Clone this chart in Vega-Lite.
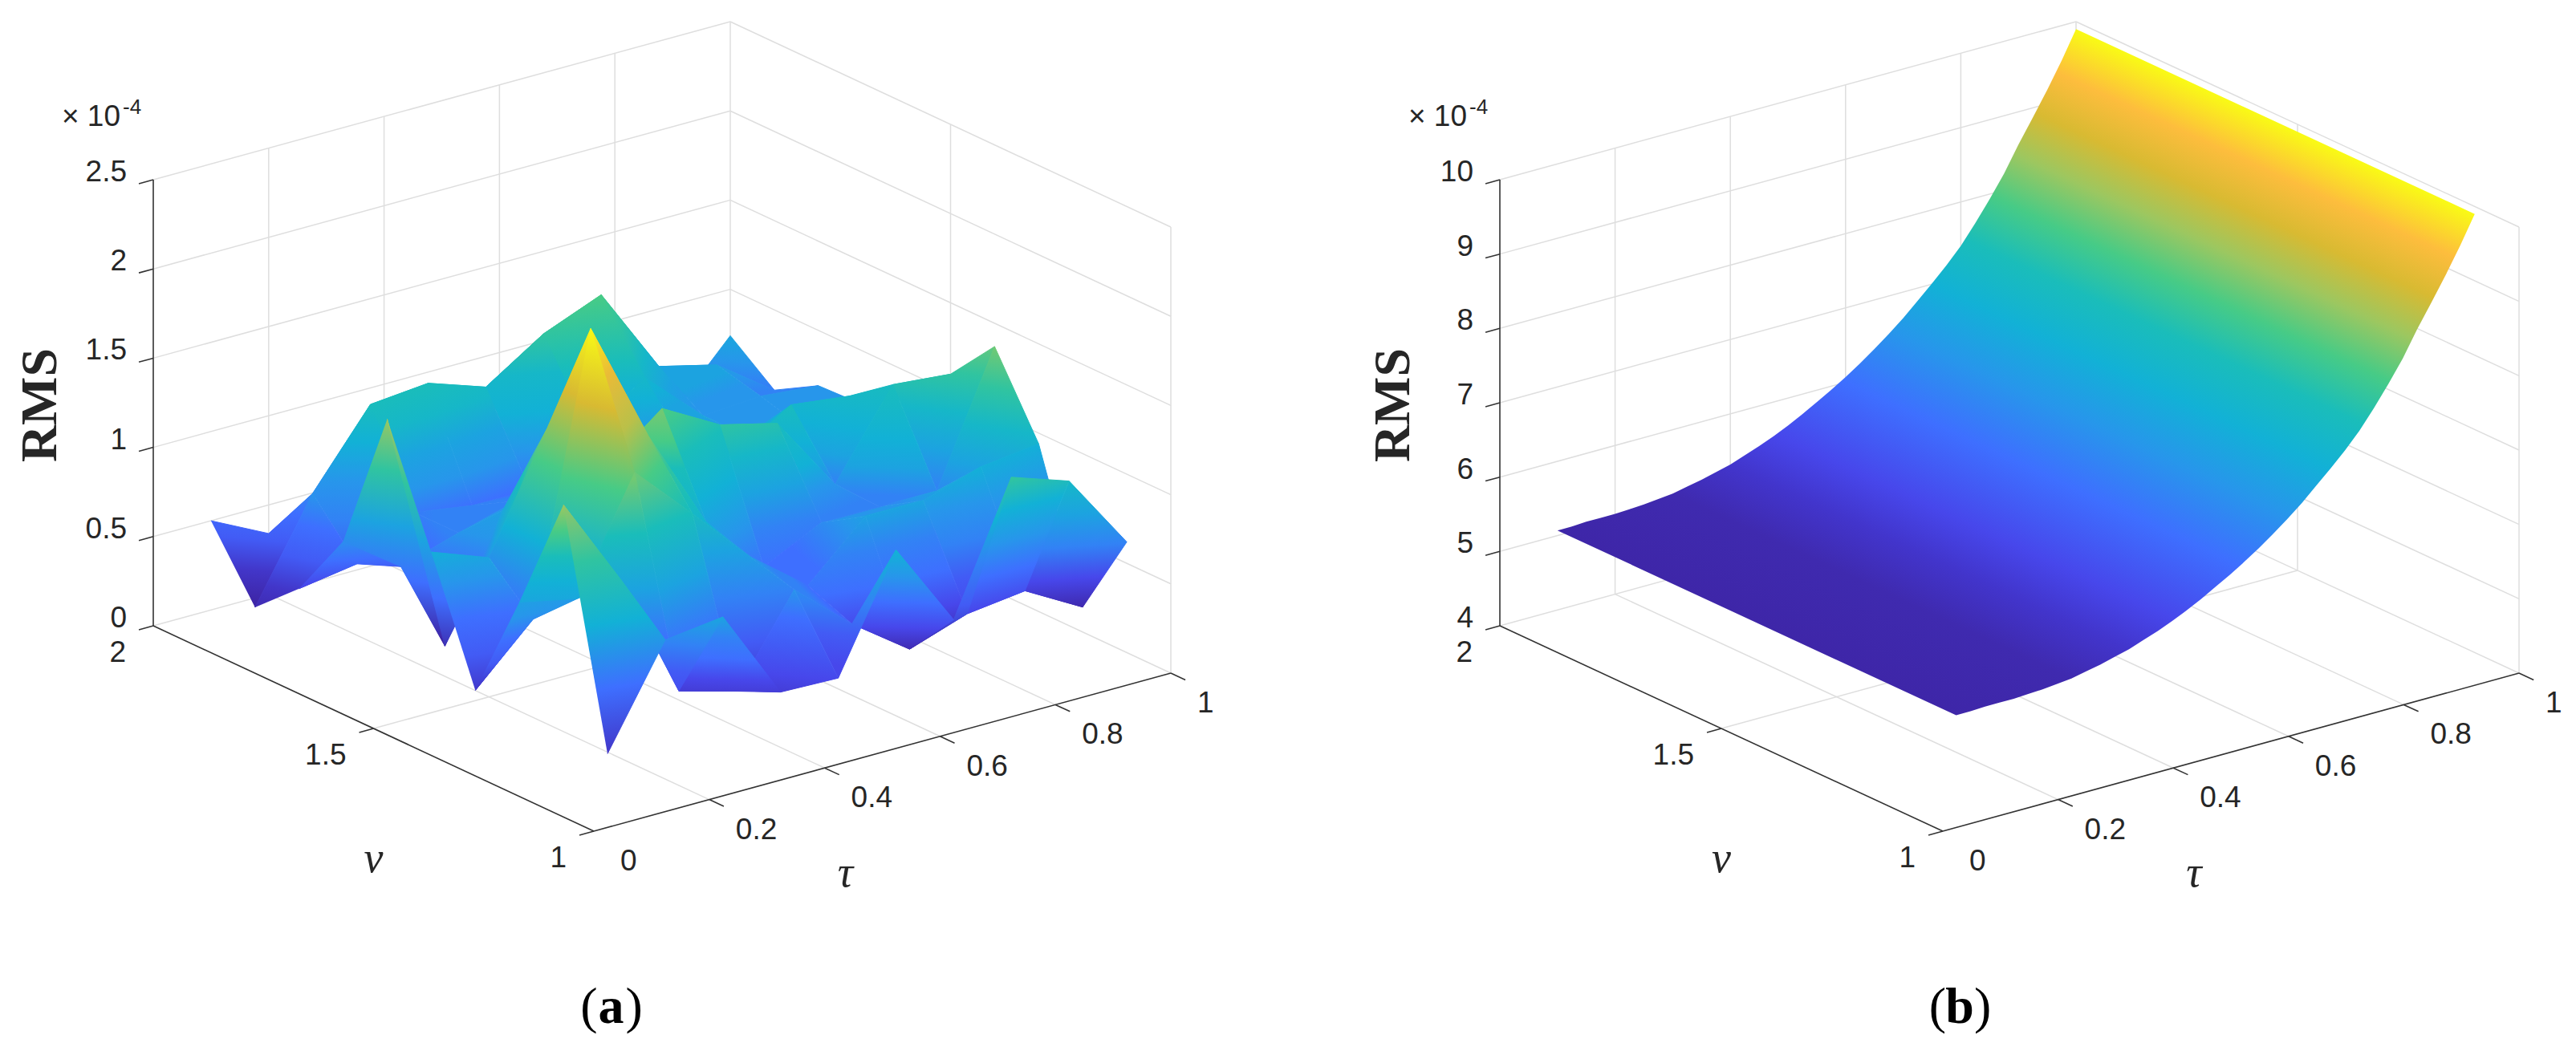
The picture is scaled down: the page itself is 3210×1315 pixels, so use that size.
{"$schema":"https://vega.github.io/schema/vega-lite/v6.json","width":3210,"height":1315,"padding":0,"background":"white","autosize":{"type":"fit","contains":"padding"},"config":{"view":{"stroke":null}},
"params":[{"name":"P","value":["#3E26A8","#4236C9","#4747EB","#425BF5","#3E6FFF","#3282F5","#2796EB","#1CA3E0","#12B1D6","#16B7C8","#1ABDBA","#30C4A0","#47CB86","#71C973","#9CC760","#BAC049","#D8BA32","#EABB37","#FDBD3D","#FBDC29","#F9FB15"]}],
"datasets":{"A":[
{"k":1020,"tau":1,"nu":2,"rms":0.74},{"k":1019,"tau":1,"nu":1.9,"rms":0.55},{"k":1018,"tau":1,"nu":1.8,"rms":0.69},{"k":1017,"tau":1,"nu":1.7,"rms":0.70},{"k":1016,"tau":1,"nu":1.6,"rms":0.85},{"k":1015,"tau":1,"nu":1.5,"rms":1.10},{"k":1014,"tau":1,"nu":1.4,"rms":1.37},{"k":1013,"tau":1,"nu":1.3,"rms":0.94},{"k":1012,"tau":1,"nu":1.2,"rms":0.14},{"k":1011,"tau":1,"nu":1.1,"rms":0.62},
{"k":920,"tau":0.9,"nu":2,"rms":0.40},{"k":919,"tau":0.9,"nu":1.9,"rms":0.78},{"k":918,"tau":0.9,"nu":1.8,"rms":0.72},{"k":917,"tau":0.9,"nu":1.7,"rms":0.65},{"k":916,"tau":0.9,"nu":1.6,"rms":0.95},{"k":915,"tau":0.9,"nu":1.5,"rms":1.13},{"k":914,"tau":0.9,"nu":1.4,"rms":0.65},{"k":913,"tau":0.9,"nu":1.3,"rms":0.90},{"k":912,"tau":0.9,"nu":1.2,"rms":0.32},{"k":911,"tau":0.9,"nu":1.1,"rms":1.05},
{"k":820,"tau":0.8,"nu":2,"rms":0.70},{"k":819,"tau":0.8,"nu":1.9,"rms":0.86},{"k":818,"tau":0.8,"nu":1.8,"rms":0.70},{"k":817,"tau":0.8,"nu":1.7,"rms":0.70},{"k":816,"tau":0.8,"nu":1.6,"rms":0.99},{"k":815,"tau":0.8,"nu":1.5,"rms":0.66},{"k":814,"tau":0.8,"nu":1.4,"rms":0.65},{"k":813,"tau":0.8,"nu":1.3,"rms":0.80},{"k":812,"tau":0.8,"nu":1.2,"rms":0.28},{"k":811,"tau":0.8,"nu":1.1,"rms":1.16},
{"k":720,"tau":0.7,"nu":2,"rms":0.60},{"k":719,"tau":0.7,"nu":1.9,"rms":1.35},{"k":718,"tau":0.7,"nu":1.8,"rms":1.00},{"k":717,"tau":0.7,"nu":1.7,"rms":0.70},{"k":716,"tau":0.7,"nu":1.6,"rms":0.80},{"k":715,"tau":0.7,"nu":1.5,"rms":1.09},{"k":714,"tau":0.7,"nu":1.4,"rms":0.65},{"k":713,"tau":0.7,"nu":1.3,"rms":0.80},{"k":712,"tau":0.7,"nu":1.2,"rms":0.17},{"k":711,"tau":0.7,"nu":1.1,"rms":0.45},
{"k":620,"tau":0.6,"nu":2,"rms":0.70},{"k":619,"tau":0.6,"nu":1.9,"rms":1.22},{"k":618,"tau":0.6,"nu":1.8,"rms":0.80},{"k":617,"tau":0.6,"nu":1.7,"rms":0.85},{"k":616,"tau":0.6,"nu":1.6,"rms":0.80},{"k":615,"tau":0.6,"nu":1.5,"rms":1.17},{"k":614,"tau":0.6,"nu":1.4,"rms":0.49},{"k":613,"tau":0.6,"nu":1.3,"rms":0.50},{"k":612,"tau":0.6,"nu":1.2,"rms":0.40},{"k":611,"tau":0.6,"nu":1.1,"rms":0.93},
{"k":520,"tau":0.5,"nu":2,"rms":0.60},{"k":519,"tau":0.5,"nu":1.9,"rms":1.01},{"k":518,"tau":0.5,"nu":1.8,"rms":0.55},{"k":517,"tau":0.5,"nu":1.7,"rms":0.65},{"k":516,"tau":0.5,"nu":1.6,"rms":0.70},{"k":515,"tau":0.5,"nu":1.5,"rms":1.35},{"k":514,"tau":0.5,"nu":1.4,"rms":0.83},{"k":513,"tau":0.5,"nu":1.3,"rms":0.75},{"k":512,"tau":0.5,"nu":1.2,"rms":0.68},{"k":511,"tau":0.5,"nu":1.1,"rms":0.30},
{"k":420,"tau":0.4,"nu":2,"rms":0.50},{"k":419,"tau":0.4,"nu":1.9,"rms":1.12},{"k":418,"tau":0.4,"nu":1.8,"rms":0.55},{"k":417,"tau":0.4,"nu":1.7,"rms":0.69},{"k":416,"tau":0.4,"nu":1.6,"rms":0.90},{"k":415,"tau":0.4,"nu":1.5,"rms":1.10},{"k":414,"tau":0.4,"nu":1.4,"rms":1.40},{"k":413,"tau":0.4,"nu":1.3,"rms":1.08},{"k":412,"tau":0.4,"nu":1.2,"rms":0.20},{"k":411,"tau":0.4,"nu":1.1,"rms":0.31},
{"k":320,"tau":0.3,"nu":2,"rms":0.50},{"k":319,"tau":0.3,"nu":1.9,"rms":1.09},{"k":318,"tau":0.3,"nu":1.8,"rms":0.60},{"k":317,"tau":0.3,"nu":1.7,"rms":0.60},{"k":316,"tau":0.3,"nu":1.6,"rms":0.84},{"k":315,"tau":0.3,"nu":1.5,"rms":1.41},{"k":314,"tau":0.3,"nu":1.4,"rms":2.09},{"k":313,"tau":0.3,"nu":1.3,"rms":1.40},{"k":312,"tau":0.3,"nu":1.2,"rms":0.29},{"k":311,"tau":0.3,"nu":1.1,"rms":0.82},
{"k":220,"tau":0.2,"nu":2,"rms":0.34},{"k":219,"tau":0.2,"nu":1.9,"rms":0.68},{"k":218,"tau":0.2,"nu":1.8,"rms":0.40},{"k":217,"tau":0.2,"nu":1.7,"rms":0.50},{"k":216,"tau":0.2,"nu":1.6,"rms":0.17},{"k":215,"tau":0.2,"nu":1.5,"rms":0.78},{"k":214,"tau":0.2,"nu":1.4,"rms":0.55},{"k":213,"tau":0.2,"nu":1.3,"rms":0.78},{"k":212,"tau":0.2,"nu":1.2,"rms":1.00},{"k":211,"tau":0.2,"nu":1.1,"rms":0.78},
{"k":120,"tau":0.1,"nu":2,"rms":0.50},{"k":119,"tau":0.1,"nu":1.9,"rms":0.13},{"k":118,"tau":0.1,"nu":1.8,"rms":0.35},{"k":117,"tau":0.1,"nu":1.7,"rms":0.73},{"k":116,"tau":0.1,"nu":1.6,"rms":1.53},{"k":115,"tau":0.1,"nu":1.5,"rms":0.90},{"k":114,"tau":0.1,"nu":1.4,"rms":0.24},{"k":113,"tau":0.1,"nu":1.3,"rms":0.85},{"k":112,"tau":0.1,"nu":1.2,"rms":1.51},{"k":111,"tau":0.1,"nu":1.1,"rms":0.23}
],
"B":[{"tau":1,"rms":9.9},{"tau":0.975,"rms":9.53},{"tau":0.95,"rms":9.19},{"tau":0.925,"rms":8.87},{"tau":0.9,"rms":8.56},{"tau":0.875,"rms":8.22},{"tau":0.85,"rms":7.93},{"tau":0.825,"rms":7.66},{"tau":0.8,"rms":7.41},{"tau":0.775,"rms":7.2},{"tau":0.75,"rms":7.01},{"tau":0.725,"rms":6.83},{"tau":0.7,"rms":6.65},{"tau":0.675,"rms":6.49},{"tau":0.65,"rms":6.34},{"tau":0.625,"rms":6.2},{"tau":0.6,"rms":6.07},{"tau":0.575,"rms":5.95},{"tau":0.55,"rms":5.84},{"tau":0.525,"rms":5.73},{"tau":0.5,"rms":5.63},{"tau":0.475,"rms":5.54},{"tau":0.45,"rms":5.46},{"tau":0.425,"rms":5.39},{"tau":0.4,"rms":5.32},{"tau":0.375,"rms":5.27},{"tau":0.35,"rms":5.22},{"tau":0.325,"rms":5.18},{"tau":0.3,"rms":5.14},{"tau":0.275,"rms":5.12},{"tau":0.25,"rms":5.1},{"tau":0.225,"rms":5.09},{"tau":0.2,"rms":5.08},{"tau":0.175,"rms":5.08},{"tau":0.15,"rms":5.08},{"tau":0.125,"rms":5.07},{"tau":0.1,"rms":5.07}]},
"data":{"values":[
{"c":"g","p":"a","tau":[0.2,0.2],"nu":[1,2],"z":[0,0]},{"c":"g","p":"a","tau":[0.4,0.4],"nu":[1,2],"z":[0,0]},{"c":"g","p":"a","tau":[0.6,0.6],"nu":[1,2],"z":[0,0]},{"c":"g","p":"a","tau":[0.8,0.8],"nu":[1,2],"z":[0,0]},{"c":"g","p":"a","tau":[1,1],"nu":[1,2],"z":[0,0]},
{"c":"g","p":"a","tau":[0,1],"nu":[1.5,1.5],"z":[0,0]},{"c":"g","p":"a","tau":[0,1],"nu":[2,2],"z":[0,0]},
{"c":"g","p":"a","tau":[0.2,0.2],"nu":[2,2],"z":[0,2.5]},{"c":"g","p":"a","tau":[0.4,0.4],"nu":[2,2],"z":[0,2.5]},{"c":"g","p":"a","tau":[0.6,0.6],"nu":[2,2],"z":[0,2.5]},{"c":"g","p":"a","tau":[0.8,0.8],"nu":[2,2],"z":[0,2.5]},{"c":"g","p":"a","tau":[1,1],"nu":[2,2],"z":[0,2.5]},
{"c":"g","p":"a","tau":[1,1],"nu":[1,1],"z":[0,2.5]},{"c":"g","p":"a","tau":[1,1],"nu":[1.5,1.5],"z":[0,2.5]},
{"c":"g","p":"a","tau":[0,1],"nu":[2,2],"z":[0.5,0.5]},{"c":"g","p":"a","tau":[0,1],"nu":[2,2],"z":[1,1]},{"c":"g","p":"a","tau":[0,1],"nu":[2,2],"z":[1.5,1.5]},{"c":"g","p":"a","tau":[0,1],"nu":[2,2],"z":[2,2]},{"c":"g","p":"a","tau":[0,1],"nu":[2,2],"z":[2.5,2.5]},
{"c":"g","p":"a","tau":[1,1],"nu":[2,1],"z":[0.5,0.5]},{"c":"g","p":"a","tau":[1,1],"nu":[2,1],"z":[1,1]},{"c":"g","p":"a","tau":[1,1],"nu":[2,1],"z":[1.5,1.5]},{"c":"g","p":"a","tau":[1,1],"nu":[2,1],"z":[2,2]},{"c":"g","p":"a","tau":[1,1],"nu":[2,1],"z":[2.5,2.5]},
{"c":"g","p":"b","tau":[0.2,0.2],"nu":[1,2],"z":[4,4]},{"c":"g","p":"b","tau":[0.4,0.4],"nu":[1,2],"z":[4,4]},{"c":"g","p":"b","tau":[0.6,0.6],"nu":[1,2],"z":[4,4]},{"c":"g","p":"b","tau":[0.8,0.8],"nu":[1,2],"z":[4,4]},{"c":"g","p":"b","tau":[1,1],"nu":[1,2],"z":[4,4]},
{"c":"g","p":"b","tau":[0,1],"nu":[1.5,1.5],"z":[4,4]},{"c":"g","p":"b","tau":[0,1],"nu":[2,2],"z":[4,4]},
{"c":"g","p":"b","tau":[0.2,0.2],"nu":[2,2],"z":[4,10]},{"c":"g","p":"b","tau":[0.4,0.4],"nu":[2,2],"z":[4,10]},{"c":"g","p":"b","tau":[0.6,0.6],"nu":[2,2],"z":[4,10]},{"c":"g","p":"b","tau":[0.8,0.8],"nu":[2,2],"z":[4,10]},{"c":"g","p":"b","tau":[1,1],"nu":[2,2],"z":[4,10]},
{"c":"g","p":"b","tau":[1,1],"nu":[1,1],"z":[4,10]},{"c":"g","p":"b","tau":[1,1],"nu":[1.5,1.5],"z":[4,10]},
{"c":"g","p":"b","tau":[0,1],"nu":[2,2],"z":[5,5]},{"c":"g","p":"b","tau":[0,1],"nu":[2,2],"z":[6,6]},{"c":"g","p":"b","tau":[0,1],"nu":[2,2],"z":[7,7]},{"c":"g","p":"b","tau":[0,1],"nu":[2,2],"z":[8,8]},{"c":"g","p":"b","tau":[0,1],"nu":[2,2],"z":[9,9]},{"c":"g","p":"b","tau":[0,1],"nu":[2,2],"z":[10,10]},
{"c":"g","p":"b","tau":[1,1],"nu":[2,1],"z":[5,5]},{"c":"g","p":"b","tau":[1,1],"nu":[2,1],"z":[6,6]},{"c":"g","p":"b","tau":[1,1],"nu":[2,1],"z":[7,7]},{"c":"g","p":"b","tau":[1,1],"nu":[2,1],"z":[8,8]},{"c":"g","p":"b","tau":[1,1],"nu":[2,1],"z":[9,9]},{"c":"g","p":"b","tau":[1,1],"nu":[2,1],"z":[10,10]},
{"c":"x","p":"a","tau":[0,0],"nu":[2,2],"z":[0,2.5]},{"c":"x","p":"a","tau":[0,0],"nu":[1,2],"z":[0,0]},{"c":"x","p":"a","tau":[0,1],"nu":[1,1],"z":[0,0]},
{"c":"x","p":"b","tau":[0,0],"nu":[2,2],"z":[4,10]},{"c":"x","p":"b","tau":[0,0],"nu":[1,2],"z":[4,4]},{"c":"x","p":"b","tau":[0,1],"nu":[1,1],"z":[4,4]},
{"c":"x","p":"a","tau":[0,-0.025],"nu":[2,2],"z":[0.5,0.5]},{"c":"x","p":"a","tau":[0,-0.025],"nu":[2,2],"z":[1,1]},{"c":"x","p":"a","tau":[0,-0.025],"nu":[2,2],"z":[1.5,1.5]},{"c":"x","p":"a","tau":[0,-0.025],"nu":[2,2],"z":[2,2]},{"c":"x","p":"a","tau":[0,-0.025],"nu":[2,2],"z":[2.5,2.5]},{"c":"x","p":"a","tau":[0,-0.025],"nu":[2,2],"z":[0,0]},{"c":"x","p":"a","tau":[0,-0.025],"nu":[1.5,1.5],"z":[0,0]},{"c":"x","p":"a","tau":[0,-0.025],"nu":[1,1],"z":[0,0]},
{"c":"x","p":"a","tau":[0.2,0.2],"nu":[1,0.967],"z":[0,0]},{"c":"x","p":"a","tau":[0.4,0.4],"nu":[1,0.967],"z":[0,0]},{"c":"x","p":"a","tau":[0.6,0.6],"nu":[1,0.967],"z":[0,0]},{"c":"x","p":"a","tau":[0.8,0.8],"nu":[1,0.967],"z":[0,0]},{"c":"x","p":"a","tau":[1,1],"nu":[1,0.967],"z":[0,0]},
{"c":"x","p":"b","tau":[0,-0.025],"nu":[2,2],"z":[5,5]},{"c":"x","p":"b","tau":[0,-0.025],"nu":[2,2],"z":[6,6]},{"c":"x","p":"b","tau":[0,-0.025],"nu":[2,2],"z":[7,7]},{"c":"x","p":"b","tau":[0,-0.025],"nu":[2,2],"z":[8,8]},{"c":"x","p":"b","tau":[0,-0.025],"nu":[2,2],"z":[9,9]},{"c":"x","p":"b","tau":[0,-0.025],"nu":[2,2],"z":[10,10]},{"c":"x","p":"b","tau":[0,-0.025],"nu":[2,2],"z":[4,4]},{"c":"x","p":"b","tau":[0,-0.025],"nu":[1.5,1.5],"z":[4,4]},{"c":"x","p":"b","tau":[0,-0.025],"nu":[1,1],"z":[4,4]},
{"c":"x","p":"b","tau":[0.2,0.2],"nu":[1,0.967],"z":[4,4]},{"c":"x","p":"b","tau":[0.4,0.4],"nu":[1,0.967],"z":[4,4]},{"c":"x","p":"b","tau":[0.6,0.6],"nu":[1,0.967],"z":[4,4]},{"c":"x","p":"b","tau":[0.8,0.8],"nu":[1,0.967],"z":[4,4]},{"c":"x","p":"b","tau":[1,1],"nu":[1,0.967],"z":[4,4]},
{"c":"zl","p":"a","tau":[0],"nu":[2],"z":[0],"label":"0"},{"c":"zl","p":"a","tau":[0],"nu":[2],"z":[0.5],"label":"0.5"},{"c":"zl","p":"a","tau":[0],"nu":[2],"z":[1],"label":"1"},{"c":"zl","p":"a","tau":[0],"nu":[2],"z":[1.5],"label":"1.5"},{"c":"zl","p":"a","tau":[0],"nu":[2],"z":[2],"label":"2"},{"c":"zl","p":"a","tau":[0],"nu":[2],"z":[2.5],"label":"2.5"},
{"c":"zl","p":"b","tau":[0],"nu":[2],"z":[4],"label":"4"},{"c":"zl","p":"b","tau":[0],"nu":[2],"z":[5],"label":"5"},{"c":"zl","p":"b","tau":[0],"nu":[2],"z":[6],"label":"6"},{"c":"zl","p":"b","tau":[0],"nu":[2],"z":[7],"label":"7"},{"c":"zl","p":"b","tau":[0],"nu":[2],"z":[8],"label":"8"},{"c":"zl","p":"b","tau":[0],"nu":[2],"z":[9],"label":"9"},{"c":"zl","p":"b","tau":[0],"nu":[2],"z":[10],"label":"10"},
{"c":"nl","p":"a","tau":[0],"nu":[1],"z":[0],"label":"1"},{"c":"nl","p":"a","tau":[0],"nu":[1.5],"z":[0],"label":"1.5"},{"c":"nl","p":"a","tau":[0],"nu":[2],"z":[0],"label":"2"},
{"c":"nl","p":"b","tau":[0],"nu":[1],"z":[4],"label":"1"},{"c":"nl","p":"b","tau":[0],"nu":[1.5],"z":[4],"label":"1.5"},{"c":"nl","p":"b","tau":[0],"nu":[2],"z":[4],"label":"2"},
{"c":"tl","p":"a","tau":[0],"nu":[1],"z":[0],"label":"0"},{"c":"tl","p":"a","tau":[0.2],"nu":[1],"z":[0],"label":"0.2"},{"c":"tl","p":"a","tau":[0.4],"nu":[1],"z":[0],"label":"0.4"},{"c":"tl","p":"a","tau":[0.6],"nu":[1],"z":[0],"label":"0.6"},{"c":"tl","p":"a","tau":[0.8],"nu":[1],"z":[0],"label":"0.8"},{"c":"tl","p":"a","tau":[1],"nu":[1],"z":[0],"label":"1"},
{"c":"tl","p":"b","tau":[0],"nu":[1],"z":[4],"label":"0"},{"c":"tl","p":"b","tau":[0.2],"nu":[1],"z":[4],"label":"0.2"},{"c":"tl","p":"b","tau":[0.4],"nu":[1],"z":[4],"label":"0.4"},{"c":"tl","p":"b","tau":[0.6],"nu":[1],"z":[4],"label":"0.6"},{"c":"tl","p":"b","tau":[0.8],"nu":[1],"z":[4],"label":"0.8"},{"c":"tl","p":"b","tau":[1],"nu":[1],"z":[4],"label":"1"},
{"c":"ex","p":"a","tau":[0],"nu":[2],"z":[2.5],"label":"× 10"},{"c":"ex","p":"b","tau":[0],"nu":[2],"z":[10],"label":"× 10"},{"c":"es","p":"a","tau":[0],"nu":[2],"z":[2.5],"label":"-4"},{"c":"es","p":"b","tau":[0],"nu":[2],"z":[10],"label":"-4"},
{"c":"ra","p":"a","tau":[0],"nu":[2],"z":[1.25],"label":"RMS"},{"c":"rb","p":"b","tau":[0],"nu":[2],"z":[7],"label":"RMS"},
{"c":"nu","p":"a","tau":[0],"nu":[1.5],"z":[0],"label":"ν"},{"c":"nu","p":"b","tau":[0],"nu":[1.5],"z":[4],"label":"ν"},
{"c":"ta","p":"a","tau":[0.5],"nu":[1],"z":[0],"label":"τ"},{"c":"ta","p":"b","tau":[0.5],"nu":[1],"z":[4],"label":"τ"},
{"c":"sl","p":"a","tau":[0.5],"nu":[1],"z":[0],"label":"("},{"c":"sl","p":"b","tau":[0.5],"nu":[1],"z":[4],"label":"("},
{"c":"sr","p":"a","tau":[0.5],"nu":[1],"z":[0],"label":")"},{"c":"sr","p":"b","tau":[0.5],"nu":[1],"z":[4],"label":")"},
{"c":"sb","p":"a","tau":[0.5],"nu":[1],"z":[0],"label":"a"},{"c":"sb","p":"b","tau":[0.5],"nu":[1],"z":[4],"label":"b"}
]},
"transform":[{"window":[{"op":"row_number","as":"id"}]},{"flatten":["tau","nu","z"]},
{"calculate":"datum.p=='a'?740+719*datum.tau-549*(datum.nu-1):2421+718*datum.tau-552*(datum.nu-1)","as":"X"},
{"calculate":"1036-197*datum.tau-256*(datum.nu-1)-(datum.p=='a'?222.4*datum.z:92.67*(datum.z-4))","as":"Y"}],
"encoding":{"x":{"field":"X","type":"quantitative","scale":{"domain":[0,3210],"nice":false,"zero":false},"axis":null},"y":{"field":"Y","type":"quantitative","scale":{"domain":[1315,0],"nice":false,"zero":false},"axis":null}},
"layer":[
{"transform":[{"filter":"datum.c=='g'"}],"mark":{"type":"line","stroke":"#dedede","strokeWidth":1.5},"encoding":{"detail":{"field":"id"}}},
{"data":{"name":"A"},"transform":[{"filter":"datum.tau<0.95&&datum.nu<1.95"},
{"calculate":"[0,1,1,0]","as":"dt"},{"calculate":"[0,0,1,1]","as":"dn"},{"calculate":"[0,1,2,3]","as":"ord"},{"flatten":["dt","dn","ord"]},
{"calculate":"datum.k+100*datum.dt+datum.dn","as":"kk"},
{"lookup":"kk","from":{"data":{"name":"A"},"key":"k","fields":["rms"]},"as":["zv"]},
{"calculate":"740+719*(datum.tau+0.1*datum.dt)-549*(datum.nu+0.1*datum.dn-1)","as":"X"},
{"calculate":"1036-197*(datum.tau+0.1*datum.dt)-256*(datum.nu+0.1*datum.dn-1)-222.4*datum.zv","as":"Y"},
{"joinaggregate":[{"op":"min","field":"zv","as":"lo"},{"op":"max","field":"zv","as":"hi"},{"op":"min","field":"X","as":"x0"},{"op":"max","field":"X","as":"x9"},{"op":"min","field":"Y","as":"y0"},{"op":"max","field":"Y","as":"y9"},{"op":"mean","field":"X","as":"mx"},{"op":"mean","field":"Y","as":"my"},{"op":"mean","field":"zv","as":"mz"}],"groupby":["k"]},
{"calculate":"(datum.X-datum.mx)*(datum.X-datum.mx)","as":"pxx"},{"calculate":"(datum.X-datum.mx)*(datum.Y-datum.my)","as":"pxy"},{"calculate":"(datum.Y-datum.my)*(datum.Y-datum.my)","as":"pyy"},{"calculate":"(datum.X-datum.mx)*(datum.zv-datum.mz)","as":"pxz"},{"calculate":"(datum.Y-datum.my)*(datum.zv-datum.mz)","as":"pyz"},
{"joinaggregate":[{"op":"sum","field":"pxx","as":"sxx"},{"op":"sum","field":"pxy","as":"sxy"},{"op":"sum","field":"pyy","as":"syy"},{"op":"sum","field":"pxz","as":"sxz"},{"op":"sum","field":"pyz","as":"syz"}],"groupby":["k"]},
{"calculate":"datum.sxx*datum.syy-datum.sxy*datum.sxy","as":"det"},
{"calculate":"(datum.syy*datum.sxz-datum.sxy*datum.syz)/datum.det","as":"ga"},{"calculate":"(datum.sxx*datum.syz-datum.sxy*datum.sxz)/datum.det","as":"gb"},
{"calculate":"datum.ga*(datum.x9-datum.x0)","as":"ax"},{"calculate":"datum.gb*(datum.y9-datum.y0)","as":"ay"},
{"calculate":"datum.ax*datum.ax+datum.ay*datum.ay","as":"aa"},
{"calculate":"datum.mz+datum.ga*((datum.x0+datum.x9)/2-datum.mx)+datum.gb*((datum.y0+datum.y9)/2-datum.my)","as":"z0"},
{"calculate":"(datum.lo-0.13)/0.098","as":"fa"},{"calculate":"(datum.hi-0.13)/0.098","as":"fb"},
{"calculate":"{gradient:'linear',x1:0.5+datum.ax*(datum.lo-datum.z0)/datum.aa,y1:0.5+datum.ay*(datum.lo-datum.z0)/datum.aa,x2:0.5+datum.ax*(datum.hi-datum.z0)/datum.aa,y2:0.5+datum.ay*(datum.hi-datum.z0)/datum.aa,stops:[{offset:0,color:P[round(datum.fa)]},{offset:0.25,color:P[round(0.75*datum.fa+0.25*datum.fb)]},{offset:0.5,color:P[round(0.5*datum.fa+0.5*datum.fb)]},{offset:0.75,color:P[round(0.25*datum.fa+0.75*datum.fb)]},{offset:1,color:P[round(datum.fb)]}]}","as":"gr"}],
"mark":{"type":"line","strokeWidth":1,"fill":{"expr":"datum.gr"},"stroke":{"expr":"datum.gr"}},
"encoding":{"detail":{"field":"k"},"order":{"field":"ord"}}},
{"data":{"name":"B"},"transform":[
{"calculate":"[1.1,2]","as":"nv"},{"flatten":["nv"]},
{"calculate":"datum.nv<1.5?datum.tau:3-datum.tau","as":"ord"},
{"calculate":"2421+718*datum.tau-552*(datum.nv-1)","as":"X"},
{"calculate":"1036-197*datum.tau-256*(datum.nv-1)-92.67*(datum.rms-4)","as":"Y"}],
"mark":{"type":"line","stroke":"transparent","fill":{"gradient":"linear","x1":0.4346,"y1":1,"x2":0.9187,"y2":0.219,"stops":[{"offset":0,"color":"#3E26A8"},{"offset":0.1216,"color":"#3F2AAF"},{"offset":0.197,"color":"#4235CC"},{"offset":0.2656,"color":"#4747EB"},{"offset":0.3794,"color":"#3E6FFF"},{"offset":0.4777,"color":"#2796EB"},{"offset":0.5656,"color":"#12B1D6"},{"offset":0.6475,"color":"#1ABDBA"},{"offset":0.722,"color":"#47CB86"},{"offset":0.7929,"color":"#9CC760"},{"offset":0.8613,"color":"#D8BA32"},{"offset":0.9292,"color":"#FDBD3D"},{"offset":1,"color":"#F9FB15"}]}},
"encoding":{"order":{"field":"ord"}}},
{"transform":[{"filter":"datum.c=='x'"}],"mark":{"type":"line","stroke":"#333333","strokeWidth":1.6},"encoding":{"detail":{"field":"id"}}},
{"transform":[{"filter":"datum.c=='zl'"}],"mark":{"type":"text","font":"Liberation Sans","fontSize":37,"align":"right","baseline":"middle","dx":-33,"dy":-9,"color":"#262626"},"encoding":{"text":{"field":"label"}}},
{"transform":[{"filter":"datum.c=='nl'"}],"mark":{"type":"text","font":"Liberation Sans","fontSize":37,"align":"right","baseline":"middle","dx":-34,"dy":34,"color":"#262626"},"encoding":{"text":{"field":"label"}}},
{"transform":[{"filter":"datum.c=='tl'"}],"mark":{"type":"text","font":"Liberation Sans","fontSize":37,"align":"left","baseline":"middle","dx":33,"dy":38,"color":"#262626"},"encoding":{"text":{"field":"label"}}},
{"transform":[{"filter":"datum.c=='ex'"}],"mark":{"type":"text","font":"Liberation Sans","fontSize":37,"align":"right","baseline":"middle","dx":-41,"dy":-78,"color":"#262626"},"encoding":{"text":{"field":"label"}}},
{"transform":[{"filter":"datum.c=='es'"}],"mark":{"type":"text","font":"Liberation Sans","fontSize":26,"align":"left","baseline":"middle","dx":-38,"dy":-90,"color":"#262626"},"encoding":{"text":{"field":"label"}}},
{"transform":[{"filter":"datum.c=='ra'"}],"mark":{"type":"text","font":"Liberation Serif","fontWeight":"bold","fontSize":64,"angle":270,"align":"center","baseline":"middle","dx":-3,"dy":-140,"color":"#262626"},"encoding":{"text":{"field":"label"}}},
{"transform":[{"filter":"datum.c=='rb'"}],"mark":{"type":"text","font":"Liberation Serif","fontWeight":"bold","fontSize":64,"angle":270,"align":"center","baseline":"middle","dx":-3,"dy":-132,"color":"#262626"},"encoding":{"text":{"field":"label"}}},
{"transform":[{"filter":"datum.c=='nu'"}],"mark":{"type":"text","font":"Liberation Serif","fontStyle":"italic","fontSize":54,"align":"center","baseline":"middle","dy":163,"color":"#262626"},"encoding":{"text":{"field":"label"}}},
{"transform":[{"filter":"datum.c=='ta'"}],"mark":{"type":"text","font":"Liberation Serif","fontStyle":"italic","fontSize":54,"align":"center","baseline":"middle","dx":-46,"dy":151,"color":"#262626"},"encoding":{"text":{"field":"label"}}},
{"transform":[{"filter":"datum.c=='sl'"}],"mark":{"type":"text","font":"Liberation Serif","fontSize":64,"align":"right","baseline":"middle","dx":-355,"dy":318,"color":"#000000"},"encoding":{"text":{"field":"label"}}},
{"transform":[{"filter":"datum.c=='sr'"}],"mark":{"type":"text","font":"Liberation Serif","fontSize":64,"align":"left","baseline":"middle","dx":-320,"dy":318,"color":"#000000"},"encoding":{"text":{"field":"label"}}},
{"transform":[{"filter":"datum.c=='sb'"}],"mark":{"type":"text","font":"Liberation Serif","fontWeight":"bold","fontSize":64,"align":"center","baseline":"middle","dx":-338,"dy":318,"color":"#000000"},"encoding":{"text":{"field":"label"}}}
]}
